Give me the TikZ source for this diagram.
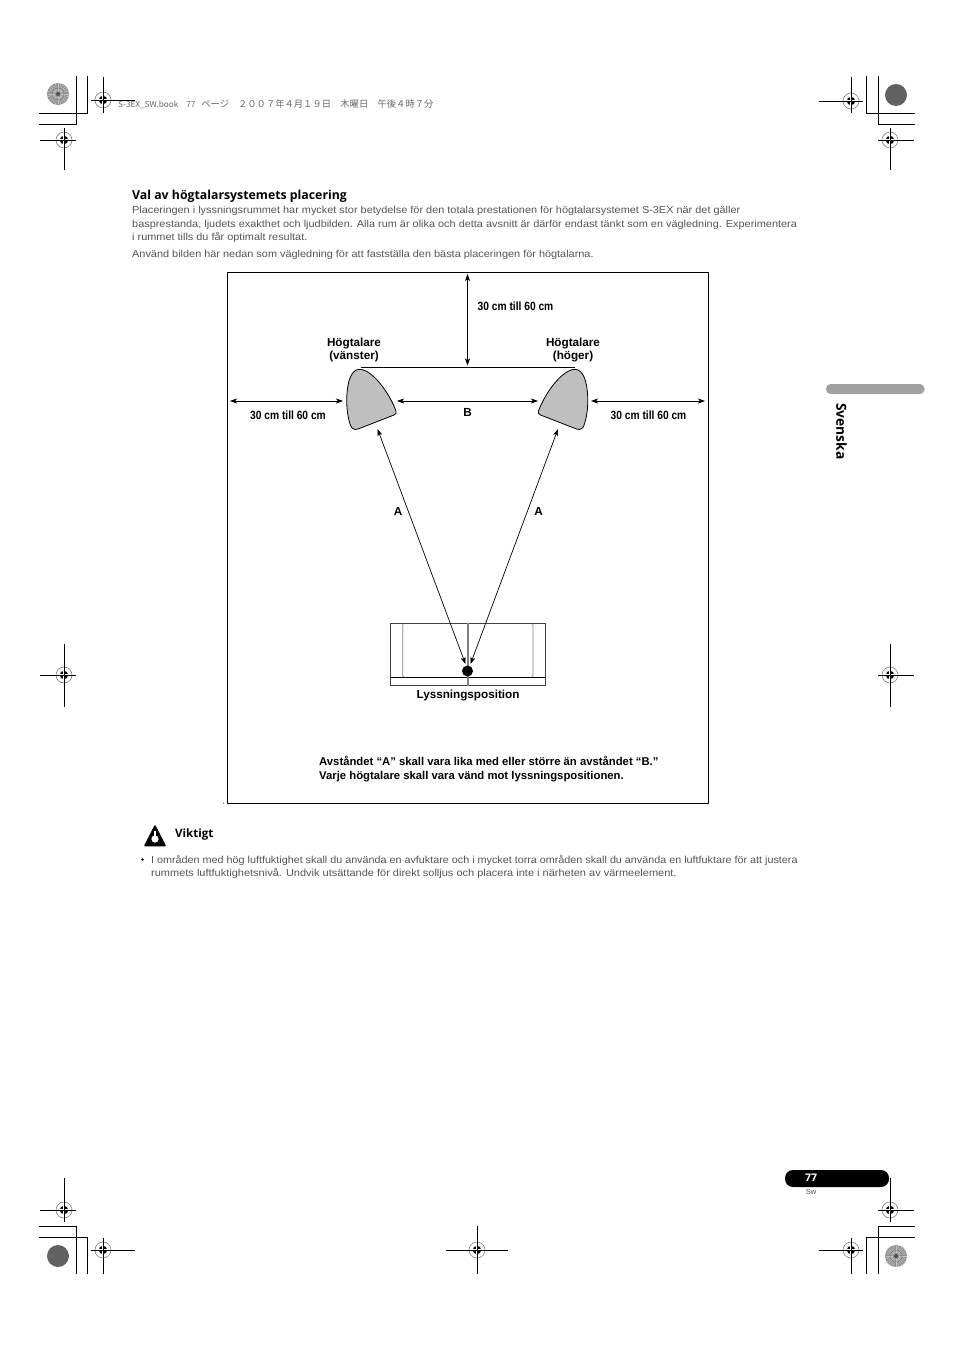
\documentclass[tikz,border=0pt]{standalone}
\usepackage{fontspec}
\setmainfont{Liberation Sans}
\newfontfamily\headfont{Open Sans}
\newfontfamily\narrowfont[FakeStretch=0.86]{Liberation Sans}
\newfontfamily\bodyfont[FakeStretch=1.08]{Liberation Sans}
\newfontfamily\cjkfont{Noto Sans CJK JP}
\usetikzlibrary{arrows.meta}
\definecolor{bodygrey}{gray}{0.33}
\definecolor{speakergrey}{gray}{0.75}
\definecolor{tabgrey}{gray}{0.63}

\begin{document}
\begin{tikzpicture}[
		x=1pt, y=-1pt,
		crop/.style = {line width=0.9pt, black},
		body/.style = {anchor=base west, inner sep=0, font=\bodyfont\fontsize{10.1}{12}\selectfont, text=bodygrey},
		lbl/.style = {inner sep=0, align=center, font=\fontsize{11.7}{13}\bfseries\selectfont},
		note/.style = {anchor=base west, inner sep=0, font=\fontsize{11.3}{13}\bfseries\selectfont},
		dist/.style = {inner sep=0, font=\narrowfont\fontsize{11.9}{13}\bfseries\selectfont},
		r/.style = {{Stealth[length=7pt,width=5pt,inset=1.8pt]}-{Stealth[length=7pt,width=5pt,inset=1.8pt]}, line width=0.7pt},
		spk/.style = {draw=black, fill=speakergrey, line width=0.8pt, line join=round}
		]
		\useasboundingbox (0,0) rectangle (954,1351);
		
		%Print marks
		\foreach \x/\y/\xa/\xb/\ya/\yb in {103/100/91/135/77/113, 64/140/40/76/128/170, 851/101/819/863/77/113, 890/140/878/914/128/170,
			64/675/40/76/644/707, 890/675/878/914/644/707, 64/1210/40/76/1178/1222, 103/1250/91/135/1238/1274,
			477/1250/446/508/1226/1274, 890/1210/878/914/1178/1222, 851/1250/819/863/1238/1274}{
			\draw[gray, line width=0.6pt] (\x,\y) circle (8pt);
			\fill[black] (\x,\y) circle (4.2pt);
			\draw[white, line width=0.5pt] (\x-4.2,\y-1) -- (\x+4.2,\y-1);
			\draw[white, line width=0.5pt] (\x-1,\y-4.2) -- (\x-1,\y+4.2);
			\draw[crop] (\xa,\y) -- (\xb,\y);
			\draw[crop] (\x,\ya) -- (\x,\yb);
		}
		\draw[crop] (39,124) -- (76,124) -- (76,76);
		\draw[crop] (39,113) -- (87.5,113) -- (87.5,76);
		\draw[crop] (915,113) -- (866,113) -- (866,76);
		\draw[crop] (915,124) -- (878,124) -- (878,76);
		\draw[crop] (39,1226) -- (76,1226) -- (76,1274);
		\draw[crop] (39,1237) -- (87.5,1237) -- (87.5,1274);
		\draw[crop] (915,1226) -- (878,1226) -- (878,1274);
		\draw[crop] (915,1237) -- (866,1237) -- (866,1274);
		\foreach \x/\y in {58/94, 896/1256}{
			\fill[gray!85] (\x,\y) circle (11pt);
			\foreach \ang in {0,15,...,345}
				\draw[white!55!gray, line width=0.45pt] (\x,\y) ++(\ang:3pt) -- ++(\ang:7.5pt);
			\draw[black!55, line width=0.5pt] (\x,\y) circle (6pt);
			\fill[black!70] (\x,\y) circle (2pt);
		}
		\foreach \x/\y in {896/95, 58/1256}
			\fill[black!62] (\x,\y) circle (11pt);
		
		%Header
		\node[anchor=base west, inner sep=0, text=black!60, font=\cjkfont\fontsize{9.3}{11}\selectfont] (book) at (118,107.5)
			{{\fontsize{8.2}{10}\selectfont S-3EX\_SW.book\hspace{8pt}77}\hspace{6pt}ページ\hspace{9pt}２００７年４月１９日　木曜日　午後４時７分};
		
		%Page text
		\node[anchor=base west, inner sep=0, font=\headfont\fontsize{12.3}{14}\bfseries\selectfont] (head) at (132,199.5) {Val av högtalarsystemets placering};
		\node[body] (t1) at (132,214) {Placeringen i lyssningsrummet har mycket stor betydelse för den totala prestationen för högtalarsystemet S-3EX när det gäller};
		\node[body] (t2) at (132,227) {basprestanda, ljudets exakthet och ljudbilden. Alla rum är olika och detta avsnitt är därför endast tänkt som en vägledning. Experimentera};
		\node[body] (t3) at (132,240) {i rummet tills du får optimalt resultat.};
		\node[body] (t4) at (132,257) {Använd bilden här nedan som vägledning för att fastställa den bästa placeringen för högtalarna.};
		
		%Room
		\draw[line width=0.8pt] (227,272.5) rectangle (708.5,803.5);
		\fill (223.5,803) circle (0.5pt);
		\coordinate (top) at (467.5,274);
		\coordinate (back) at (467.5,365.5);
		\coordinate (wallL) at (230,401);
		\coordinate (wallR) at (705,401);
		\coordinate (spkLw) at (343,401);
		\coordinate (spkRe) at (591,401);
		\coordinate (spkLe) at (397,401);
		\coordinate (spkRw) at (538,401);
		\coordinate (spkLb) at (377.5,429);
		\coordinate (spkRb) at (558,429);
		\coordinate (earL) at (465.5,664);
		\coordinate (earR) at (470.5,664);
		
		%Speakers
		\draw[spk] (355,429.5) .. controls (352,429.5) and (351,427) .. (350,424) .. controls (347,414) and (346.5,405) .. (346.8,396)
			.. controls (347.5,382) and (351,369.5) .. (359.5,369.3) .. controls (372,369.5) and (389,392) .. (396,411)
			.. controls (396.5,413) and (396,414) .. (394,415) -- (358,429) .. controls (357,429.3) and (356,429.5) .. (355,429.5) -- cycle;
		\draw[spk] (579.5,429.5) .. controls (582.5,429.5) and (583.5,427) .. (584.5,424) .. controls (587.5,414) and (588,405) .. (587.7,396)
			.. controls (587,382) and (583.5,369.5) .. (575,369.3) .. controls (562.5,369.5) and (545.5,392) .. (538.5,411)
			.. controls (538,413) and (538.5,414) .. (540.5,415) -- (576.5,429) .. controls (577.5,429.3) and (578.5,429.5) .. (579.5,429.5) -- cycle;
		\draw[line width=0.7pt] (360.7,367.3) -- (575,367.3);
		
		%Listening position
		\draw[gray, line width=0.6pt, rounded corners=1.5pt] (405,623.3) -- (402.7,623.3) -- (402.7,677.3) -- (405,677.3);
		\draw[gray, line width=0.6pt, rounded corners=1.5pt] (530.7,623.3) -- (533,623.3) -- (533,677.3) -- (530.7,677.3);
		\draw[black!75, line width=0.7pt] (390.3,623.3) rectangle (545.8,685.7);
		\draw[line width=0.8pt] (390.3,677.3) -- (545.8,677.3);
		\draw[gray, line width=1.2pt] (468,623.3) -- (468,685.7);
		\node[circle, fill=black, inner sep=0, minimum size=11pt] (seat) at (467.5,671) {};
		
		%Lines
		\draw[r] (top) -- (back);
		\draw[r] (wallL) -- (spkLw);
		\draw[r] (spkRe) -- (wallR);
		\draw[r] (spkLe) -- (spkRw);
		\draw[r] (spkLb) -- (earL);
		\draw[r] (spkRb) -- (earR);
		
		%Labels
		\node[dist] (dTop) at (515.5,306.5) {30 cm till 60 cm};
		\node[dist] (dLeft) at (288,415.5) {30 cm till 60 cm};
		\node[dist] (dRight) at (648.5,415.5) {30 cm till 60 cm};
		\node[lbl] (hL) at (354,350) {Högtalare\\(vänster)};
		\node[lbl] (hR) at (573,350) {Högtalare\\(höger)};
		\node[lbl] (B) at (467.5,412) {B};
		\node[lbl] (A1) at (398,511) {A};
		\node[lbl] (A2) at (538.5,511) {A};
		\node[lbl] (pos) at (468,695) {Lyssningsposition};
		\node[note] (n1) at (319,765) {Avståndet “A” skall vara lika med eller större än avståndet “B.”};
		\node[note] (n2) at (319,779) {Varje högtalare skall vara vänd mot lyssningspositionen.};
		
		%Warning
		\draw[black, fill=black, line width=1.5pt, line join=round] (155,826) -- (165,845.5) -- (145,845.5) -- cycle;
		\fill[white] (155,839) circle (3.6pt);
		\fill[white] (154,831) rectangle (156,838);
		\node[anchor=base west, inner sep=0, font=\headfont\fontsize{11.5}{13}\bfseries\selectfont] (warn) at (175,837) {Viktigt};
		\fill[black] (142.5,859.5) circle (1.4pt);
		\node[body, xscale=0.988] (w1) at (151,863) {I områden med hög luftfuktighet skall du använda en avfuktare och i mycket torra områden skall du använda en luftfuktare för att justera};
		\node[body, xscale=1.008] (w2) at (151,876) {rummets luftfuktighetsnivå. Undvik utsättande för direkt solljus och placera inte i närheten av värmeelement.};
		
		%Side tab
		\fill[tabgrey, rounded corners=4.5pt] (826,384) rectangle (924.5,394);
		\node[rotate=-90, anchor=west, inner sep=0, font=\headfont\fontsize{13.8}{15}\bfseries\selectfont] (lang) at (841.5,403) {Svenska};
		
		%Page number
		\fill[black, rounded corners=8pt] (785,1170) rectangle (889,1187);
		\node[text=white, inner sep=0, font=\headfont\fontsize{10.5}{12}\bfseries\selectfont] (page) at (811,1178) {77};
		\node[text=bodygrey, inner sep=0, font=\fontsize{7.5}{9}\selectfont] (sw) at (811,1192) {Sw};
		
	\end{tikzpicture}
\end{document}
